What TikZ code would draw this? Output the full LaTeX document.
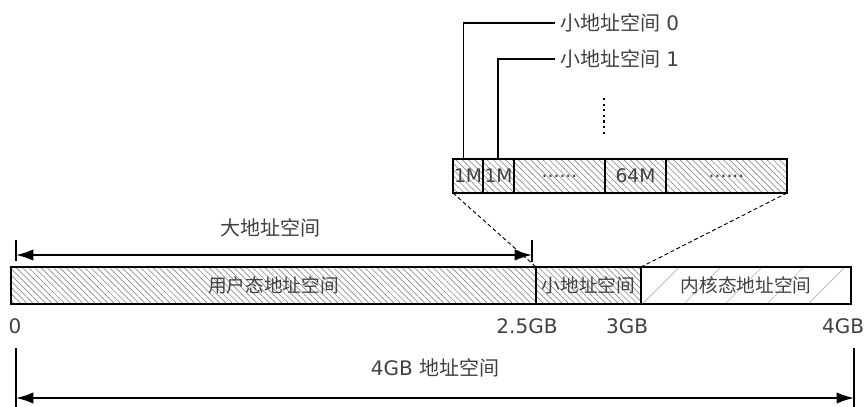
\documentclass[tikz,border=0pt]{standalone}
\usepackage{fontspec}
\setmainfont{DejaVu Sans}
\newfontfamily\cjk{Noto Sans CJK SC}
\usetikzlibrary{arrows.meta,patterns.meta}

\tikzset{
  seg/.style={draw, line width=1pt, inner sep=0pt, outer sep=0pt, text=black!75,
    font=\fontsize{14}{16}\selectfont},
  dense/.style={pattern={Lines[angle=-45,distance=3.3pt,line width=0.5pt]},
    pattern color=gray!90},
  sparse/.style={pattern={Lines[angle=45,distance=22pt,line width=0.5pt]},
    pattern color=gray!60},
  lbl/.style={text=black!75, font=\fontsize{15}{17}\selectfont},
  span/.style={line width=1.3pt, {Latex[length=13pt,width=8.5pt]}-{Latex[length=13pt,width=8.5pt]}},
}

\begin{document}
\begin{tikzpicture}[x=0.75pt, y=-0.75pt, line width=1pt]
  \useasboundingbox (0,0) rectangle (868,407);

  % 4GB 总线
  \node[seg, dense, anchor=north west, minimum width=393.75pt, minimum height=27.75pt]
    (user) at (11,267) {\cjk 用户态地址空间};
  \node[seg, dense, anchor=west, minimum width=78.75pt, minimum height=27.75pt]
    (small) at (user.east) {\cjk 小地址空间};
  \node[seg, sparse, anchor=west, minimum width=157.5pt, minimum height=27.75pt]
    (kernel) at (small.east) {\cjk 内核态地址空间};
  \draw[line width=2pt] (kernel.north west) -- (kernel.south west);

  % 放大的小地址空间
  \node[seg, dense, anchor=north west, minimum width=22.5pt, minimum height=25.5pt]
    (s1) at (453,159) {1M};
  \node[seg, dense, anchor=west, minimum width=23.25pt, minimum height=25.5pt]
    (s2) at (s1.east) {1M};
  \node[seg, dense, anchor=west, minimum width=68.25pt, minimum height=25.5pt]
    (s3) at (s2.east) {......};
  \node[seg, dense, anchor=west, minimum width=45.75pt, minimum height=25.5pt]
    (s4) at (s3.east) {64M};
  \node[seg, dense, anchor=west, minimum width=90.75pt, minimum height=25.5pt]
    (s5) at (s4.east) {......};

  \draw[densely dashed, line width=0.7pt] (s1.south west) -- (small.north west);
  \draw[densely dashed, line width=0.7pt] (s5.south east) -- (kernel.north west);

  \node[lbl, anchor=west] (sp0) at (555,23) {{\cjk 小地址空间} 0};
  \node[lbl, anchor=west] (sp1) at (555,59) {{\cjk 小地址空间} 1};
  \draw ([xshift=-3.5pt]s1.north) |- (sp0.west);
  \draw ([xshift=-0.5pt]s2.north) |- (sp1.west);
  \draw[line width=1.6pt, dash pattern=on 1.6pt off 2.6pt] (604,98) -- (604,134);

  % 大地址空间
  \coordinate (ba) at (16,255);
  \coordinate (bb) at (532,255);
  \draw (16,240) -- (16,261);
  \draw (532,240) -- (532,262);
  \draw[span] (ba) -- (bb);
  \node[lbl] (big) at (270,228) {\cjk 大地址空间};

  % 刻度
  \node[lbl] (t0) at (15,326) {0};
  \node[lbl] (t25) at (527,326) {2.5GB};
  \node[lbl] (t3) at (627,326) {3GB};
  \node[lbl] (t4) at (843,326) {4GB};

  % 4GB 地址空间
  \coordinate (fa) at (16,398);
  \coordinate (fb) at (854,398);
  \draw (16,348) -- (16,407);
  \draw (854,348) -- (854,407);
  \draw[span] (fa) -- (fb);
  \node[lbl] (full) at (435,368) {4GB {\cjk 地址空间}};
\end{tikzpicture}
\end{document}
